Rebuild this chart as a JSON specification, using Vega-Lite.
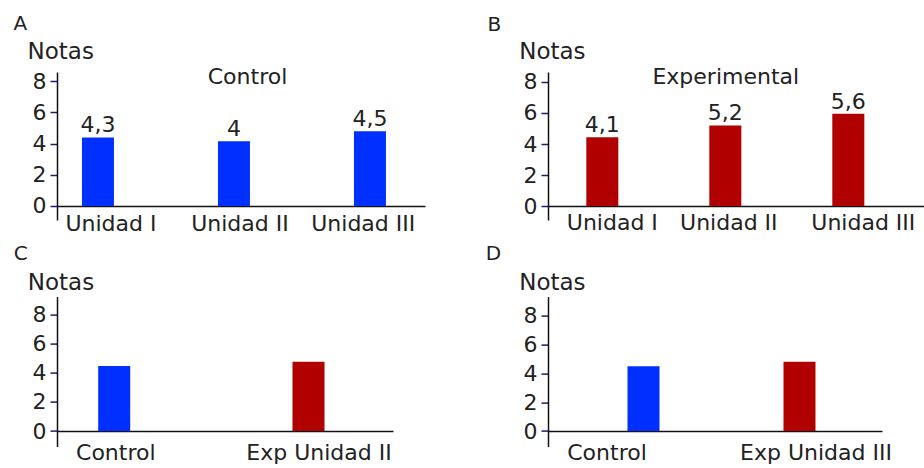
{
  "$schema": "https://vega.github.io/schema/vega-lite/v6.json",
  "padding": {"left": 13, "top": 13, "right": 0, "bottom": 0},
  "background": "white",
  "config": {
    "font": "DejaVu Sans",
    "view": {"stroke": null},
    "axis": {"grid": false, "labelFont": "DejaVu Sans", "titleFont": "DejaVu Sans", "labelColor": "#222", "titleColor": "#222", "titleFontWeight": "normal", "labelFontSize": 22, "titleFontSize": 22, "domainColor": "#111", "domainWidth": 1.5, "tickColor": "#1a1a80", "labelOverlap": false},
    "text": {"font": "DejaVu Sans", "fontSize": 22, "color": "#222"}
  },
  "datasets": {
    "panelA": [
      {"unidad": "Unidad I", "nota": 4.4, "etiqueta": "4,3", "grupo": "Control"},
      {"unidad": "Unidad II", "nota": 4.15, "etiqueta": "4", "grupo": "Control"},
      {"unidad": "Unidad III", "nota": 4.8, "etiqueta": "4,5", "grupo": "Control"}
    ],
    "panelB": [
      {"unidad": "Unidad I", "nota": 4.43, "etiqueta": "4,1", "grupo": "Experimental"},
      {"unidad": "Unidad II", "nota": 5.2, "etiqueta": "5,2", "grupo": "Experimental"},
      {"unidad": "Unidad III", "nota": 5.95, "etiqueta": "5,6", "grupo": "Experimental"}
    ],
    "panelC": [
      {"unidad": "Control", "nota": 4.47, "grupo": "Control"},
      {"unidad": "Exp Unidad II", "nota": 4.77, "grupo": "Experimental"}
    ],
    "panelD": [
      {"unidad": "Control", "nota": 4.5, "grupo": "Control"},
      {"unidad": "Exp Unidad III", "nota": 4.82, "grupo": "Experimental"}
    ]
  },
  "bounds": "flush",
  "align": "each",
  "columns": 2,
  "spacing": {"row": 76.6, "column": 123},
  "concat": [
    {
      "width": 368, "height": 148,
      "data": {"name": "panelA"},
      "layer": [
        {
          "mark": {"type": "bar"},
          "encoding": {
            "x": {"field": "unidad", "type": "nominal", "sort": null,
              "scale": {"paddingInner": 0.7647, "paddingOuter": 0.2353, "align": 0.39},
              "axis": {"orient": "bottom", "offset": -14, "title": "A", "titleX": -44, "titleY": -176.4, "titleAlign": "left", "titleBaseline": "alphabetic", "titleFontSize": 20, "titleAngle": 0, "ticks": false, "tickSize": 0, "labelPadding": 7, "labelAngle": 0,
                "labelOffset": {"condition": [{"test": "datum.value === 'Unidad I'", "value": 13}, {"test": "datum.value === 'Unidad II'", "value": 6}], "value": -6.7}}},
            "y": {"field": "nota", "type": "quantitative",
              "scale": {"domain": [-0.898, 8.595], "nice": false, "zero": false},
              "axis": {"orient": "left", "values": [0, 2, 4, 6, 8], "title": "Notas", "titleAngle": 0, "titleX": -30, "titleY": -13.4, "titleAlign": "left", "titleBaseline": "alphabetic", "titleFontSize": 23, "tickSize": 7, "tickWidth": 1.5, "labelPadding": 4}},
            "color": {"field": "grupo", "type": "nominal", "scale": {"domain": ["Control", "Experimental"], "range": ["#0030FF", "#B00000"]}, "legend": null}
          }
        },
        {
          "mark": {"type": "text", "baseline": "alphabetic", "dy": -5, "fontSize": 22},
          "encoding": {
            "x": {"field": "unidad", "type": "nominal", "sort": null, "axis": null},
            "y": {"field": "nota", "type": "quantitative",
              "axis": {"orient": "right", "title": "Control", "titleX": -178, "titleY": 11.3, "titleAlign": "center", "titleBaseline": "alphabetic", "titleAngle": 0, "labels": false, "ticks": false, "domain": false}},
            "text": {"field": "etiqueta"}
          }
        }
      ],
      "resolve": {"axis": {"x": "independent", "y": "independent"}}
    },
    {
      "width": 376, "height": 148,
      "data": {"name": "panelB"},
      "layer": [
        {
          "mark": {"type": "bar"},
          "encoding": {
            "x": {"field": "unidad", "type": "nominal", "sort": null,
              "scale": {"paddingInner": 0.7398, "paddingOuter": 0.3984, "align": 0.391},
              "axis": {"orient": "bottom", "offset": -14, "title": "B", "titleX": -61, "titleY": -175.7, "titleAlign": "left", "titleBaseline": "alphabetic", "titleFontSize": 20, "titleAngle": 0, "ticks": false, "tickSize": 0, "labelPadding": 6.3, "labelAngle": 0,
                "labelOffset": {"condition": [{"test": "datum.value === 'Unidad I'", "value": 10}, {"test": "datum.value === 'Unidad II'", "value": 3.5}], "value": 15}}},
            "y": {"field": "nota", "type": "quantitative",
              "scale": {"domain": [-0.903, 8.645], "nice": false, "zero": false},
              "axis": {"orient": "left", "values": [0, 2, 4, 6, 8], "title": "Notas", "titleAngle": 0, "titleX": -29.3, "titleY": -13.4, "titleAlign": "left", "titleBaseline": "alphabetic", "titleFontSize": 23, "tickSize": 7, "tickWidth": 1.5, "labelPadding": 4}},
            "color": {"field": "grupo", "type": "nominal", "scale": {"domain": ["Control", "Experimental"], "range": ["#0030FF", "#B00000"]}, "legend": null}
          }
        },
        {
          "mark": {"type": "text", "baseline": "alphabetic", "dy": -5, "fontSize": 22},
          "encoding": {
            "x": {"field": "unidad", "type": "nominal", "sort": null, "axis": null},
            "y": {"field": "nota", "type": "quantitative",
              "axis": {"orient": "right", "title": "Experimental", "titleX": -198.7, "titleY": 11.6, "titleAlign": "center", "titleBaseline": "alphabetic", "titleAngle": 0, "labels": false, "ticks": false, "domain": false}},
            "text": {"field": "etiqueta"}
          }
        }
      ],
      "resolve": {"axis": {"x": "independent", "y": "independent"}}
    },
    {
      "width": 336, "height": 150,
      "data": {"name": "panelC"},
      "mark": {"type": "bar"},
      "encoding": {
        "x": {"field": "unidad", "type": "nominal", "sort": null,
          "scale": {"paddingInner": 0.8353, "paddingOuter": 0.2823, "align": 0.3756},
          "axis": {"orient": "bottom", "offset": -15.6, "title": "C", "titleX": -43.7, "titleY": -171.7, "titleAlign": "left", "titleBaseline": "alphabetic", "titleFontSize": 20, "titleAngle": 0, "ticks": false, "tickSize": 0, "labelPadding": 11.6, "labelAngle": 0,
            "labelOffset": {"condition": {"test": "datum.value === 'Control'", "value": 1.6}, "value": 10.5}}},
        "y": {"field": "nota", "type": "quantitative",
          "scale": {"domain": [-1.07, 9.24], "nice": false, "zero": false},
          "axis": {"orient": "left", "values": [0, 2, 4, 6, 8], "title": "Notas", "titleAngle": 0, "titleX": -29.7, "titleY": -7.3, "titleAlign": "left", "titleBaseline": "alphabetic", "titleFontSize": 23, "tickSize": 7, "tickWidth": 1.5, "labelPadding": 4}},
        "color": {"field": "grupo", "type": "nominal", "scale": {"domain": ["Control", "Experimental"], "range": ["#0030FF", "#B00000"]}, "legend": null}
      }
    },
    {
      "width": 334, "height": 150,
      "data": {"name": "panelD"},
      "mark": {"type": "bar"},
      "encoding": {
        "x": {"field": "unidad", "type": "nominal", "sort": null,
          "scale": {"paddingInner": 0.7949, "paddingOuter": 0.468, "align": 0.5445},
          "axis": {"orient": "bottom", "offset": -15.55, "title": "D", "titleX": -62.7, "titleY": -171.75, "titleAlign": "left", "titleBaseline": "alphabetic", "titleFontSize": 20, "titleAngle": 0, "ticks": false, "tickSize": 0, "labelPadding": 11.6, "labelAngle": 0,
            "labelOffset": {"condition": {"test": "datum.value === 'Control'", "value": -36.5}, "value": 16.5}}},
        "y": {"field": "nota", "type": "quantitative",
          "scale": {"domain": [-1.08, 9.34], "nice": false, "zero": false},
          "axis": {"orient": "left", "values": [0, 2, 4, 6, 8], "title": "Notas", "titleAngle": 0, "titleX": -29.3, "titleY": -7.3, "titleAlign": "left", "titleBaseline": "alphabetic", "titleFontSize": 23, "tickSize": 7, "tickWidth": 1.5, "labelPadding": 4}},
        "color": {"field": "grupo", "type": "nominal", "scale": {"domain": ["Control", "Experimental"], "range": ["#0030FF", "#B00000"]}, "legend": null}
      }
    }
  ]
}
